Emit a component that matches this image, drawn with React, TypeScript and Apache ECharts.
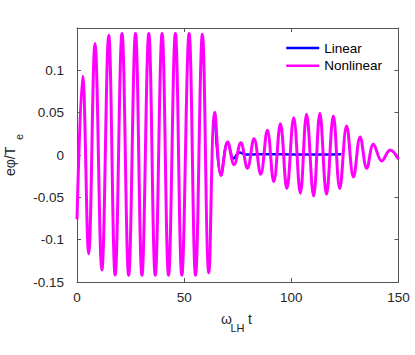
import React, { useEffect, useRef } from 'react';
import * as echarts from 'echarts';

const seriesNames = ['Linear', 'Nonlinear'];
const xTicks = [0, 50, 100, 150];
const yTicks = [-0.15, -0.1, -0.05, 0, 0.05, 0.1];

const nonlinearT = [
  0, 2.65, 5.45, 8.4, 11.6, 14.8, 17.8, 21.0, 24.1, 27.3, 30.3, 33.5, 36.5, 39.7,
  42.7, 45.9, 48.9, 52.3, 55.3, 58.5, 61.5, 64.3, 67.2, 70.3, 73.3, 76.4, 79.5,
  82.6, 85.7, 88.8, 91.8, 94.9, 97.9, 101.1, 104.2, 107.1, 110.4, 113.3, 116.4,
  119.6, 122.6, 125.8, 129.0, 132.1, 135.2, 138.3, 142.2, 146.1, 150,
];
const nonlinearV = [
  -0.076, 0.093, -0.1165, 0.1316, -0.1358, 0.1414, -0.1417, 0.1434, -0.142, 0.1434,
  -0.142, 0.1434, -0.142, 0.1434, -0.142, 0.1434, -0.142, 0.1434, -0.142, 0.1425,
  -0.139, 0.0505, -0.024, 0.0154, -0.0115, 0.0146, -0.0157, 0.0193, -0.0228, 0.0292,
  -0.0315, 0.037, -0.0397, 0.0441, -0.0452, 0.048, -0.0484, 0.0492, -0.0464, 0.046,
  -0.0397, 0.0343, -0.026, 0.0213, -0.0157, 0.0126, -0.0071, 0.0059, -0.005,
];

const linearT = [64.3, 67.2, 70.3, 73.1, 75.9, 78.6, 85, 95, 105, 115, 123.3];
const linearV = [0.0505, -0.024, 0.0154, -0.004, 0.003, 0.0006, 0.0008, 0.0008, 0.0006, 0.0006, 0.0008];

const FONT = '"Liberation Sans", Arial, Helvetica, sans-serif';
const AXIS_COLOR = '#555555';
const TEXT_COLOR = '#262626';

export default function App() {
  const ref = useRef<HTMLDivElement>(null);

  useEffect(() => {
    if (!ref.current) return;
    const chart = echarts.init(ref.current, undefined, { renderer: 'svg' });

    const axisLine = { show: true, onZero: false, lineStyle: { color: AXIS_COLOR, width: 1 } };
    const axisTick = { show: true, inside: true, length: 4, lineStyle: { color: AXIS_COLOR, width: 1 } };

    const option: any = {
      animation: false,
      backgroundColor: '#ffffff',
      grid: { left: 77, right: 16.5, top: 28, bottom: 73, containLabel: false },
      legend: {
        data: seriesNames,
        orient: 'vertical',
        left: 280,
        top: 36,
        padding: 5,
        itemWidth: 33,
        itemHeight: 14,
        itemGap: 3.7,
        itemStyle: { opacity: 0, borderWidth: 0 },
        lineStyle: { width: 2.5 },
        textStyle: { fontSize: 13.5, color: '#000000', fontFamily: FONT },
      },
      xAxis: [
        {
          type: 'value',
          min: xTicks[0],
          max: xTicks[xTicks.length - 1],
          interval: 50,
          position: 'bottom',
          axisLine,
          axisTick,
          axisLabel: { color: TEXT_COLOR, fontSize: 13.5, fontFamily: FONT, margin: 8 },
          splitLine: { show: false },
        },
        {
          type: 'value',
          min: xTicks[0],
          max: xTicks[xTicks.length - 1],
          interval: 50,
          position: 'top',
          axisLine,
          axisTick,
          axisLabel: { show: false },
          splitLine: { show: false },
        },
      ],
      yAxis: [
        {
          type: 'value',
          min: yTicks[0],
          max: 0.15,
          interval: 0.05,
          position: 'left',
          axisLine,
          axisTick,
          axisLabel: {
            color: TEXT_COLOR,
            fontSize: 13.5,
            fontFamily: FONT,
            margin: 13,
            showMaxLabel: false,
            formatter: (v: number) => {
              const r = Math.round(v * 100) / 100;
              return yTicks.some((t) => Math.abs(t - r) < 1e-9) ? String(r) : '';
            },
          },
          splitLine: { show: false },
        },
        {
          type: 'value',
          min: yTicks[0],
          max: 0.15,
          interval: 0.05,
          position: 'right',
          axisLine,
          axisTick,
          axisLabel: { show: false },
          splitLine: { show: false },
        },
      ],
      series: [
        {
          name: seriesNames[0],
          type: 'line',
          data: linearT.map((t, i) => [t, linearV[i]]),
          xAxisIndex: 0,
          yAxisIndex: 0,
          symbol: 'none',
          showSymbol: false,
          smooth: 0.4,
          lineStyle: { color: '#0000ff', width: 2.5 },
          itemStyle: { color: '#0000ff' },
        },
        {
          name: seriesNames[1],
          type: 'line',
          data: nonlinearT.map((t, i) => [t, nonlinearV[i]]),
          xAxisIndex: 0,
          yAxisIndex: 0,
          symbol: 'none',
          showSymbol: false,
          smooth: 0.4,
          lineStyle: { color: '#ff00ff', width: 3 },
          itemStyle: { color: '#ff00ff' },
        },
      ],
      graphic: [
        {
          type: 'text',
          x: 10,
          y: 176,
          rotation: Math.PI / 2,
          style: { text: 'eφ/T', font: `14px ${FONT}`, fill: TEXT_COLOR, align: 'left', verticalAlign: 'middle' },
        },
        {
          type: 'text',
          x: 19,
          y: 140,
          rotation: Math.PI / 2,
          style: { text: 'e', font: `11px ${FONT}`, fill: TEXT_COLOR, align: 'left', verticalAlign: 'middle' },
        },
        {
          type: 'text',
          x: 221,
          y: 318.6,
          style: { text: 'ω', font: `14px ${FONT}`, fill: TEXT_COLOR, align: 'left', verticalAlign: 'middle' },
        },
        {
          type: 'text',
          x: 230.5,
          y: 327.7,
          style: { text: 'LH', font: `11px ${FONT}`, fill: TEXT_COLOR, align: 'left', verticalAlign: 'middle' },
        },
        {
          type: 'text',
          x: 248,
          y: 319,
          style: { text: 't', font: `14px ${FONT}`, fill: TEXT_COLOR, align: 'left', verticalAlign: 'middle' },
        },
      ],
    };

    chart.setOption(option);
    return () => chart.dispose();
  }, []);

  return (
    <div
      ref={ref}
      style={{ position: 'fixed', left: 0, top: 0, width: 415, height: 355, background: '#fff' }}
    />
  );
}
